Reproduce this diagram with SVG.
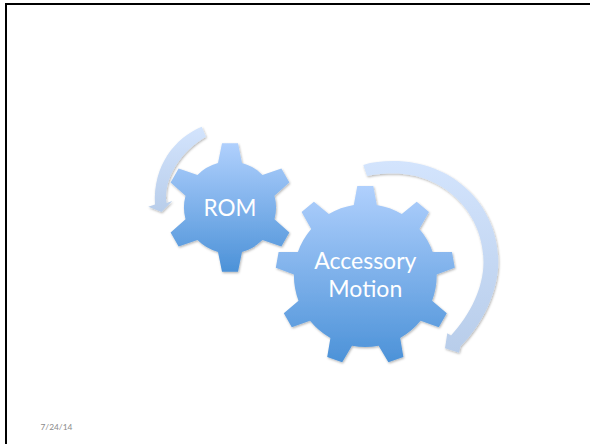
<svg xmlns="http://www.w3.org/2000/svg" width="590" height="444" viewBox="0 0 590 444">
<style>
.gear{fill:url(#gearFill);filter:url(#shadow)}
.arrow{fill:url(#arrowFill);filter:url(#shadow)}
.label{font-family:Lato,"Liberation Sans",sans-serif;fill:#fff;text-anchor:middle;font-size:23px}
.date{font-family:Lato,"Liberation Sans",sans-serif;font-size:8.4px;fill:#8b8b8b}
.frame{stroke:#000;stroke-width:2;fill:none}
</style>
<defs>
<linearGradient id="gearFill" x1="0" y1="0" x2="0" y2="1"><stop offset="0" stop-color="#b0d0fd"/><stop offset="1" stop-color="#4c92d8"/></linearGradient>
<linearGradient id="arrowFill" x1="0" y1="0" x2="0" y2="1"><stop offset="0" stop-color="#d3e4fd"/><stop offset="1" stop-color="#b8cdea"/></linearGradient>
<filter id="shadow" x="-10%" y="-10%" width="120%" height="120%"><feDropShadow dx="0.8" dy="1.2" stdDeviation="0.8" flood-color="#000" flood-opacity="0.3"/></filter>
</defs>
<rect width="590" height="444" fill="#fff"/>
<path class="frame" d="M6 444V4H590"/>
<g id="connectors">
<path class="arrow" d="M201.7 126.7C175 138 153 165 155 204.5L148.3 206.7L161.5 212L172.3 201L166.5 203C163 178 182 150 206 136.7Z"/>
<path class="arrow" d="M363.3 165C372 162 382 161 393 161C453 161 498.3 205 498.3 262C498.3 292 482 325 460.5 346.5L459 352.8L445 348.3L447.3 333.3L451 335.5C470 315 483.5 288 483.5 262C483.5 212 443 173.5 394 173.5C385 173.5 376 174 367 176Z"/>
</g>
<g id="rom" transform="translate(230 207.5)">
<path class="gear" d="M-8-64.2H8L12-44.5A46 46 0 0 1 32.5-32.6L51.4-38.9L59.4-25.1L44.5-11.85A46 46 0 0 1 44.5 11.85L59.4 25.1L51.4 38.9L32.5 32.6A46 46 0 0 1 12 44.5L8 64.2H-8L-12 44.5A46 46 0 0 1-32.5 32.6L-51.4 38.9L-59.4 25.1L-44.5 11.85A46 46 0 0 1-44.5-11.85L-59.4-25.1L-51.4-38.9L-32.5-32.6A46 46 0 0 1-12-44.5Z"/>
<text class="label" x="0" y="8.5" style="font-size:22.5px">ROM</text>
</g>
<g id="accessory-motion" transform="translate(365.3 275.5)">
<path class="gear" d="M-8-89.5H8L11.5-70.5A71.4 71.4 0 0 1 36.5-61.4L51.4-73.7L63.7-63.4L54.1-46.6A71.4 71.4 0 0 1 67.4-23.6L86.7-23.4L89.5-7.7L71.4-.9A71.4 71.4 0 0 1 66.8 25.3L81.5 37.8L73.5 51.7L55.3 45.2A71.4 71.4 0 0 1 34.9 62.4L38.1 81.4L23.1 86.8L13.3 70.2A71.4 71.4 0 0 1-13.3 70.2L-23.1 86.8L-38.1 81.4L-34.9 62.4A71.4 71.4 0 0 1-55.3 45.2L-73.5 51.7L-81.5 37.8L-66.8 25.3A71.4 71.4 0 0 1-71.4-.9L-89.5-7.7L-86.7-23.4L-67.4-23.6A71.4 71.4 0 0 1-54.1-46.6L-63.7-63.4L-51.4-73.7L-36.5-61.4A71.4 71.4 0 0 1-11.5-70.5Z"/>
<text class="label"><tspan x="0" y="-6.5">Accessory</tspan><tspan x="0" y="21">Motion</tspan></text>
</g>
<text class="date" x="40.5" y="430">7/24/14</text>
</svg>
